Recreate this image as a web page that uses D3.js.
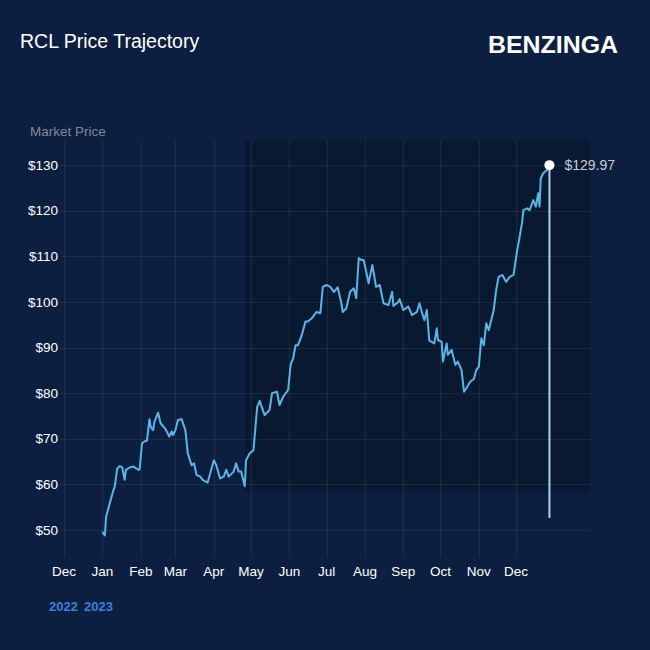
<!DOCTYPE html>
<html><head><meta charset="utf-8">
<script src="https://cdn.jsdelivr.net/npm/d3@7"></script>
<style>html,body{margin:0;padding:0;background:#0c1f40;}svg{display:block;}</style>
</head><body>
<script>
const dates = ["2023-01-01","2023-01-03","2023-01-04","2023-01-07","2023-01-10","2023-01-11","2023-01-13","2023-01-15","2023-01-17","2023-01-19","2023-01-20","2023-01-23","2023-01-26","2023-01-30","2023-01-31",
"2023-02-02","2023-02-04","2023-02-06","2023-02-08","2023-02-09","2023-02-11","2023-02-12","2023-02-15","2023-02-17","2023-02-21","2023-02-24","2023-02-26","2023-02-27",
"2023-03-01","2023-03-03","2023-03-06","2023-03-09","2023-03-11","2023-03-14","2023-03-16","2023-03-18","2023-03-21","2023-03-23","2023-03-27",
"2023-04-01","2023-04-03","2023-04-06","2023-04-09","2023-04-11","2023-04-13","2023-04-17","2023-04-19","2023-04-21","2023-04-23","2023-04-26","2023-04-27","2023-04-30",
"2023-05-03","2023-05-06","2023-05-08","2023-05-10","2023-05-12","2023-05-16","2023-05-18","2023-05-22","2023-05-24","2023-05-27","2023-05-31",
"2023-06-02","2023-06-04","2023-06-06","2023-06-08","2023-06-11","2023-06-14","2023-06-16","2023-06-19","2023-06-23","2023-06-26","2023-06-28",
"2023-07-01","2023-07-04","2023-07-07","2023-07-10","2023-07-13","2023-07-14","2023-07-17","2023-07-20","2023-07-23","2023-07-25","2023-07-27","2023-07-29","2023-07-31",
"2023-08-04","2023-08-07","2023-08-10","2023-08-13","2023-08-16","2023-08-20","2023-08-23","2023-08-24","2023-08-28","2023-08-29",
"2023-09-01","2023-09-05","2023-09-08","2023-09-12","2023-09-14","2023-09-17","2023-09-18","2023-09-20","2023-09-22","2023-09-26","2023-09-28","2023-09-29",
"2023-10-02","2023-10-03","2023-10-06","2023-10-07","2023-10-10","2023-10-13","2023-10-15","2023-10-18","2023-10-20","2023-10-22","2023-10-25","2023-10-28","2023-10-30",
"2023-11-01","2023-11-03","2023-11-05","2023-11-07","2023-11-09","2023-11-13","2023-11-15","2023-11-17","2023-11-20","2023-11-23","2023-11-26","2023-11-29",
"2023-12-02","2023-12-04","2023-12-06","2023-12-07","2023-12-10","2023-12-12","2023-12-15","2023-12-17","2023-12-19","2023-12-20","2023-12-21","2023-12-23","2023-12-26","2023-12-28"];
const prices = [49.6,48.8,52.9,55.9,58.8,59.5,63.5,64.0,63.7,61.0,63.2,63.7,63.9,63.2,63.2,
69.0,69.4,69.6,74.3,72.6,71.9,73.7,75.7,73.4,72.1,70.5,71.6,70.8,
71.9,74.1,74.3,71.9,66.8,64.2,64.6,62.1,61.7,61.0,60.4,
65.3,64.2,61.3,61.7,63.2,61.7,62.8,64.6,62.8,62.8,59.6,65.3,66.8,
67.5,77.0,78.3,76.7,75.2,76.3,80.0,80.3,77.4,79.2,80.7,
86.2,87.6,90.5,90.5,92.7,95.7,95.7,96.4,97.8,97.5,103.3,
103.7,103.3,102.2,103.2,99.7,97.8,98.6,102.2,103.0,100.8,109.6,109.2,109.2,
104.1,108.1,103.3,103.7,99.7,99.3,102.2,99.1,100.0,100.6,
98.2,99.0,97.1,97.8,99.7,96.8,96.0,98.2,91.5,90.9,94.2,91.6,
91.3,86.9,90.9,88.4,89.5,86.2,86.9,85.1,80.3,81.1,82.5,83.1,85.1,
85.8,92.0,90.5,95.3,93.8,98.2,102.6,105.5,105.9,104.4,105.5,105.9,
111.4,114.3,117.6,120.1,120.5,120.1,122.3,120.9,123.8,120.9,127.1,128.2,128.9,129.97];
const yTicks = [50,60,70,80,90,100,110,120,130];
const monthTicks = ["2022-12-01","2023-01-01","2023-02-01","2023-03-01","2023-04-01","2023-05-01","2023-06-01","2023-07-01","2023-08-01","2023-09-01","2023-10-01","2023-11-01","2023-12-01"];
const yearLabels = ["2022","2023"];
const title = "RCL Price Trajectory";
const brand = "BENZINGA";
const yAxisTitle = "Market Price";

const W = 650, H = 650;
const parse = d3.utcParse("%Y-%m-%d");
const data = dates.map((d,i)=>({date:parse(d), value:prices[i]}));
const months = monthTicks.map(parse);

const x = d3.scaleUtc().domain([parse("2022-12-01"), parse("2023-12-01")]).range([64, 516]);
const y = d3.scaleLinear().domain([50,130]).range([530,165]);

const svg = d3.select("body").append("svg").attr("width",W).attr("height",H);
svg.append("rect").attr("width",W).attr("height",H).attr("fill","#0c1f40");

const font = "'Liberation Sans', Arial, Helvetica, sans-serif";

// highlighted region
svg.append("rect").attr("x",245).attr("y",140).attr("width",345).attr("height",352).attr("fill","#0a1932");

// grid
const grid = svg.append("g").attr("stroke","#ffffff").attr("stroke-opacity",0.07).attr("stroke-width",1);
grid.selectAll("line.h").data(yTicks).join("line")
  .attr("x1",60).attr("x2",590).attr("y1",d=>Math.round(y(d))+0.5).attr("y2",d=>Math.round(y(d))+0.5);
grid.selectAll("line.v").data(months).join("line")
  .attr("x1",d=>Math.round(x(d))+0.5).attr("x2",d=>Math.round(x(d))+0.5).attr("y1",140).attr("y2",557);

// y axis labels
svg.append("g").selectAll("text").data(yTicks).join("text")
  .attr("x",58).attr("y",d=>y(d)).attr("dy","0.35em").attr("text-anchor","end")
  .attr("fill","#ffffff").attr("font-family",font).attr("font-size",13.5)
  .text(d=>"$"+d);

// x axis labels
const fmt = d3.utcFormat("%b");
svg.append("g").selectAll("text").data(months).join("text")
  .attr("x",d=>x(d)).attr("y",576).attr("text-anchor","middle")
  .attr("fill","#ffffff").attr("font-family",font).attr("font-size",13.5)
  .text(d=>fmt(d));

// year labels
svg.append("g").selectAll("text").data(yearLabels).join("text")
  .attr("x",(d,i)=>i===0?49:84).attr("y",611)
  .attr("fill","#3b80dc").attr("font-family",font).attr("font-size",13).attr("font-weight","bold")
  .text(d=>d);

// line
const line = d3.line().x(d=>x(d.date)).y(d=>y(d.value)).curve(d3.curveLinear);
svg.append("path").datum(data).attr("d",line).attr("fill","none")
  .attr("stroke","#5bb5e6").attr("stroke-width",2).attr("stroke-linejoin","round");

// last point marker
const last = data[data.length-1];
svg.append("line").attr("x1",x(last.date)).attr("x2",x(last.date)).attr("y1",y(last.value)).attr("y2",518)
  .attr("stroke","#a9d3ec").attr("stroke-width",2);
svg.append("circle").attr("cx",x(last.date)).attr("cy",y(last.value)).attr("r",5).attr("fill","#ffffff");
svg.append("text").attr("x",x(last.date)+15).attr("y",y(last.value)).attr("dy","0.35em")
  .attr("fill","#c8ccd4").attr("font-family",font).attr("font-size",14)
  .text("$"+last.value.toFixed(2));

// titles
svg.append("text").attr("x",20).attr("y",48).attr("fill","#ffffff").attr("font-family",font).attr("font-size",19.5).text(title);
svg.append("text").attr("x",30).attr("y",136).attr("fill","#80889a").attr("font-family",font).attr("font-size",13.5).text(yAxisTitle);
svg.append("text").attr("x",488).attr("y",53).attr("fill","#ffffff").attr("font-family",font).attr("font-size",23.5).attr("font-weight","bold")
  .attr("textLength",130).attr("lengthAdjust","spacingAndGlyphs").text(brand);
</script>
</body></html>
